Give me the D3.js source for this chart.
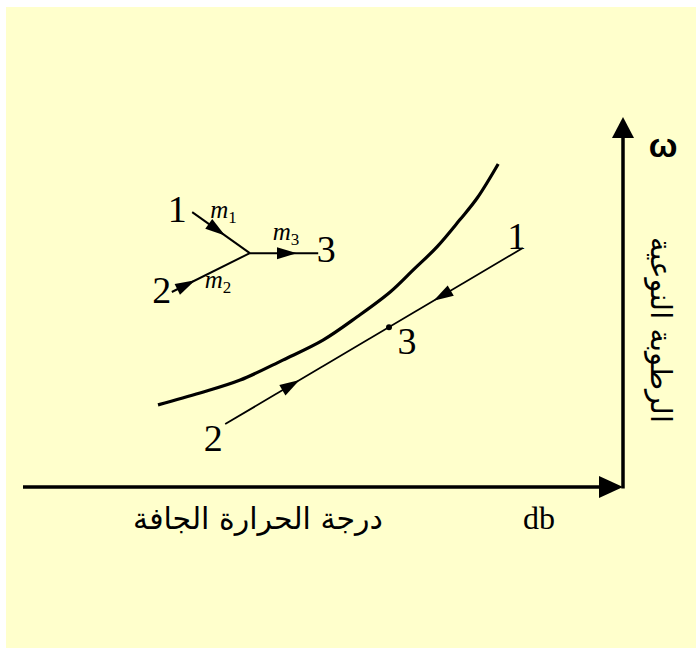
<!DOCTYPE html>
<html><head><meta charset="utf-8">
<script src="https://cdn.jsdelivr.net/npm/d3@7"></script>
<style>html,body{margin:0;padding:0;background:#fff;}svg{display:block;}</style>
</head><body>
<svg id="c" width="696" height="648"></svg>
<script>
// ---- data (chart units: db along x, omega along y, 0..100) ----
const satCurveX = [22.5, 29.5, 36.2, 43.3, 50.0, 55.7, 61.2, 65.0, 69.0, 72.8, 75.7, 79.2];
const satCurveY = [22.2, 25.4, 28.9, 34.3, 39.7, 46.0, 52.7, 58.6, 64.9, 72.2, 78.1, 87.3];
const stateNames = ["1", "2", "3"];
const stateDb = [83.3, 33.7, 61.0];
const stateW = [64.6, 17.0, 43.2];
// mixing schematic: inlet 1, inlet 2, junction, outlet 3
const mixNames = ["1", "2", "J", "3"];
const mixX = [28.2, 24.8, 37.8, 49.2];
const mixY = [74.3, 52.7, 63.2, 63.2];
const flowLabels = ["m", "m", "m"];
const flowSubs = ["1", "2", "3"];
const xLabelAr = "درجة الحرارة الجافة";
const xLabelEn = "db";
const yLabelAr = "الرطوبة النوعية";
const yLabelEn = "ω";

const svg = d3.select("#c");
svg.append("rect").attr("x", 6).attr("y", 7).attr("width", 690).attr("height", 641).attr("fill", "#FFFFCC");

const x = d3.scaleLinear().domain([0, 100]).range([23, 623]);
const y = d3.scaleLinear().domain([0, 100]).range([487, 117]);

function arrowHead(g, x1, y1, x2, y2, t, len, hw) {
  const dx = x2 - x1, dy = y2 - y1, L = Math.hypot(dx, dy);
  const ux = dx / L, uy = dy / L;
  const tx = x1 + dx * t, ty = y1 + dy * t;
  const bx = tx - ux * len, by = ty - uy * len;
  const px = -uy * hw, py = ux * hw;
  g.append("path").attr("d", `M${tx},${ty}L${bx + px},${by + py}L${bx - px},${by - py}Z`).attr("fill", "#000");
}

// axes
const ax = svg.append("g");
ax.append("line").attr("x1", x(0)).attr("y1", y(0)).attr("x2", x(100) - 20).attr("y2", y(0))
  .attr("stroke", "#000").attr("stroke-width", 3.5);
ax.append("line").attr("x1", x(100)).attr("y1", y(0) + 1.5).attr("x2", x(100)).attr("y2", y(100) + 18)
  .attr("stroke", "#000").attr("stroke-width", 3.5);
arrowHead(ax, x(0), y(0), x(100), y(0), 1, 24, 11);
arrowHead(ax, x(100), y(0), x(100), y(100), 1, 21, 11);

// saturation curve
const curvePts = satCurveX.map((d, i) => [x(d), y(satCurveY[i])]);
svg.append("path").attr("d", d3.line().curve(d3.curveCatmullRom.alpha(0.5))(curvePts))
  .attr("fill", "none").attr("stroke", "#000").attr("stroke-width", 3.2);

// process line 2 -> 1
const p1 = [x(stateDb[0]), y(stateW[0])], p2 = [x(stateDb[1]), y(stateW[1])], p3 = [x(stateDb[2]), y(stateW[2])];
const pg = svg.append("g");
pg.append("line").attr("x1", p2[0]).attr("y1", p2[1]).attr("x2", p1[0]).attr("y2", p1[1])
  .attr("stroke", "#000").attr("stroke-width", 1.8);
arrowHead(pg, p2[0], p2[1], p1[0], p1[1], 0.25, 20, 6);
arrowHead(pg, p1[0], p1[1], p2[0], p2[1], 0.30, 20, 6);
pg.append("circle").attr("cx", p3[0]).attr("cy", p3[1]).attr("r", 3).attr("fill", "#000");

const serif = "'Liberation Serif','Times New Roman',serif";
const numStyle = s => s.attr("font-family", serif).attr("font-size", 38).attr("fill", "#000").attr("text-anchor", "middle");
numStyle(svg.append("text").attr("x", p1[0] - 6).attr("y", p1[1] + 1).text(stateNames[0]));
numStyle(svg.append("text").attr("x", p2[0] - 12).attr("y", p2[1] + 27).text(stateNames[1]));
numStyle(svg.append("text").attr("x", p3[0] + 18).attr("y", p3[1] + 27).text(stateNames[2]));

// mixing schematic
const m1 = [x(mixX[0]), y(mixY[0])], m2 = [x(mixX[1]), y(mixY[1])], mj = [x(mixX[2]), y(mixY[2])], m3 = [x(mixX[3]), y(mixY[3])];
const mg = svg.append("g");
[[m1, mj], [m2, mj], [mj, m3]].forEach(([a, b]) => {
  mg.append("line").attr("x1", a[0]).attr("y1", a[1]).attr("x2", b[0]).attr("y2", b[1])
    .attr("stroke", "#000").attr("stroke-width", 2);
});
arrowHead(mg, m1[0], m1[1], mj[0], mj[1], 0.57, 20, 6);
arrowHead(mg, m2[0], m2[1], mj[0], mj[1], 0.30, 20, 6);
arrowHead(mg, mj[0], mj[1], m3[0], m3[1], 0.69, 20, 6);
numStyle(svg.append("text").attr("x", m1[0] - 15).attr("y", m1[1] + 10).text(mixNames[0]));
numStyle(svg.append("text").attr("x", m2[0] - 10).attr("y", m2[1] + 11).text(mixNames[1]));
numStyle(svg.append("text").attr("x", m3[0] + 8).attr("y", m3[1] + 9).text(mixNames[3]));

function flowLabel(px, py, i) {
  const t = svg.append("text").attr("x", px).attr("y", py).attr("font-family", serif).attr("font-size", 25).attr("fill", "#000");
  t.append("tspan").attr("font-style", "italic").text(flowLabels[i]);
  t.append("tspan").attr("font-size", 17).attr("dy", 5).text(flowSubs[i]);
}
flowLabel(m1[0] + 18, m1[1] + 6, 0);
flowLabel(m2[0] + 33, m2[1] - 4, 1);
flowLabel(mj[0] + 23, mj[1] - 13, 2);

// axis labels
const arFont = "'DejaVu Sans','Noto Sans',sans-serif";
svg.append("text").attr("x", 258).attr("y", 529).attr("text-anchor", "middle").attr("direction", "rtl")
  .attr("font-family", arFont).attr("font-size", 30).attr("fill", "#000").text(xLabelAr);
svg.append("text").attr("x", 539).attr("y", 529).attr("text-anchor", "middle")
  .attr("font-family", serif).attr("font-size", 32).attr("fill", "#000").text(xLabelEn);
svg.append("text").attr("x", 663).attr("y", 157).attr("text-anchor", "middle")
  .attr("font-family", "'Liberation Sans',Arial,sans-serif").attr("font-weight", "bold").attr("font-size", 34).attr("fill", "#000").text(yLabelEn);
svg.append("text").attr("transform", "translate(651,330) rotate(90)").attr("text-anchor", "middle").attr("direction", "rtl")
  .attr("font-family", arFont).attr("font-size", 29).attr("fill", "#000").text(yLabelAr);
</script>
</body></html>
